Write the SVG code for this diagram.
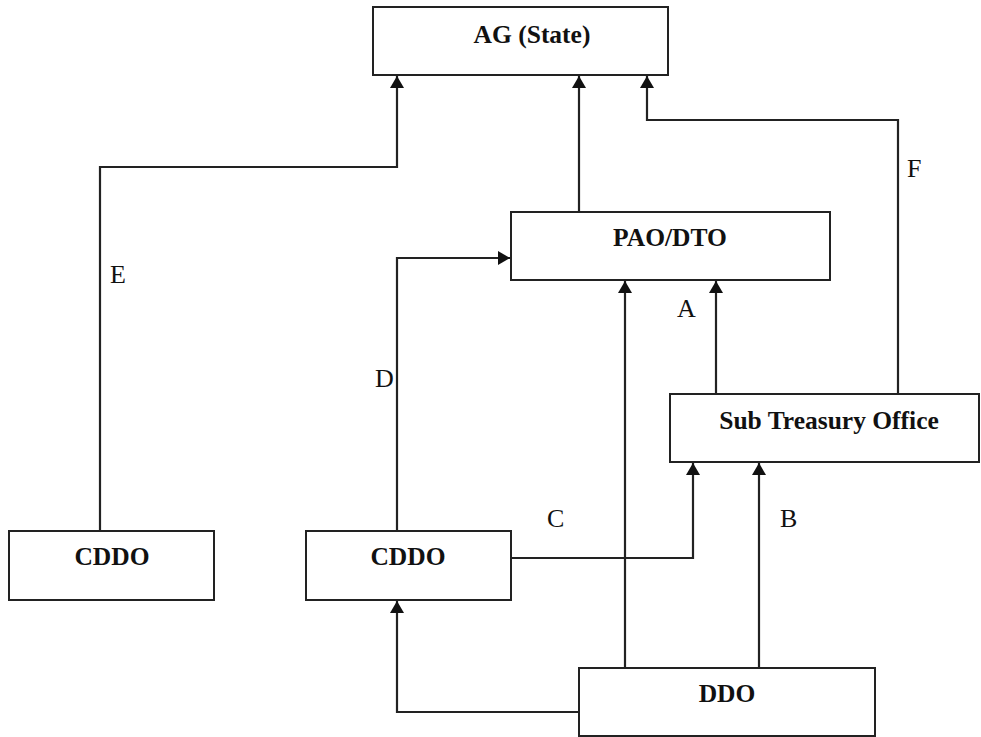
<svg xmlns="http://www.w3.org/2000/svg" width="981" height="737" viewBox="0 0 981 737">
<style>
.box{fill:#fff;stroke:#222;stroke-width:2}
.bt{font-family:"Liberation Serif",serif;font-weight:bold;font-size:25.5px;fill:#111;text-anchor:middle}
.lb{font-family:"Liberation Serif",serif;font-size:26px;fill:#111}
.c{fill:none;stroke:#222;stroke-width:2.2}
</style>
<defs>
<marker id="ah" viewBox="0 0 12 14" refX="12" refY="7" markerWidth="12" markerHeight="14" markerUnits="userSpaceOnUse" orient="auto">
<path d="M0,0 L12,7 L0,14 Z" fill="#111"/>
</marker>
</defs>
<g id="connectors">
<path class="c" d="M100,531 V167 H397 V76" marker-end="url(#ah)"/>
<path class="c" d="M579,212 V76" marker-end="url(#ah)"/>
<path class="c" d="M898,394 V120 H647 V76" marker-end="url(#ah)"/>
<path class="c" d="M397,531 V258 H510" marker-end="url(#ah)"/>
<path class="c" d="M625,668 V281" marker-end="url(#ah)"/>
<path class="c" d="M716,394 V281" marker-end="url(#ah)"/>
<path class="c" d="M511,558 H693 V463" marker-end="url(#ah)"/>
<path class="c" d="M759,668 V463" marker-end="url(#ah)"/>
<path class="c" d="M579,712 H397 V601" marker-end="url(#ah)"/>
<text class="lb" x="110" y="283">E</text>
<text class="lb" x="375" y="387">D</text>
<text class="lb" x="547" y="527">C</text>
<text class="lb" x="780" y="527">B</text>
<text class="lb" x="677" y="317">A</text>
<text class="lb" x="907" y="177">F</text>
</g>
<g id="ag"><rect class="box" x="373" y="7" width="295" height="68"/><text class="bt" x="532" y="43">AG (State)</text></g>
<g id="pao"><rect class="box" x="511" y="212" width="319" height="68"/><text class="bt" x="670" y="246">PAO/DTO</text></g>
<g id="sto"><rect class="box" x="670" y="394" width="309" height="68"/><text class="bt" x="829" y="429">Sub Treasury Office</text></g>
<g id="cddo1"><rect class="box" x="9" y="531" width="205" height="69"/><text class="bt" x="112" y="565">CDDO</text></g>
<g id="cddo2"><rect class="box" x="306" y="531" width="205" height="69"/><text class="bt" x="408" y="565">CDDO</text></g>
<g id="ddo"><rect class="box" x="579" y="668" width="296" height="68"/><text class="bt" x="727" y="702">DDO</text></g>
</svg>
